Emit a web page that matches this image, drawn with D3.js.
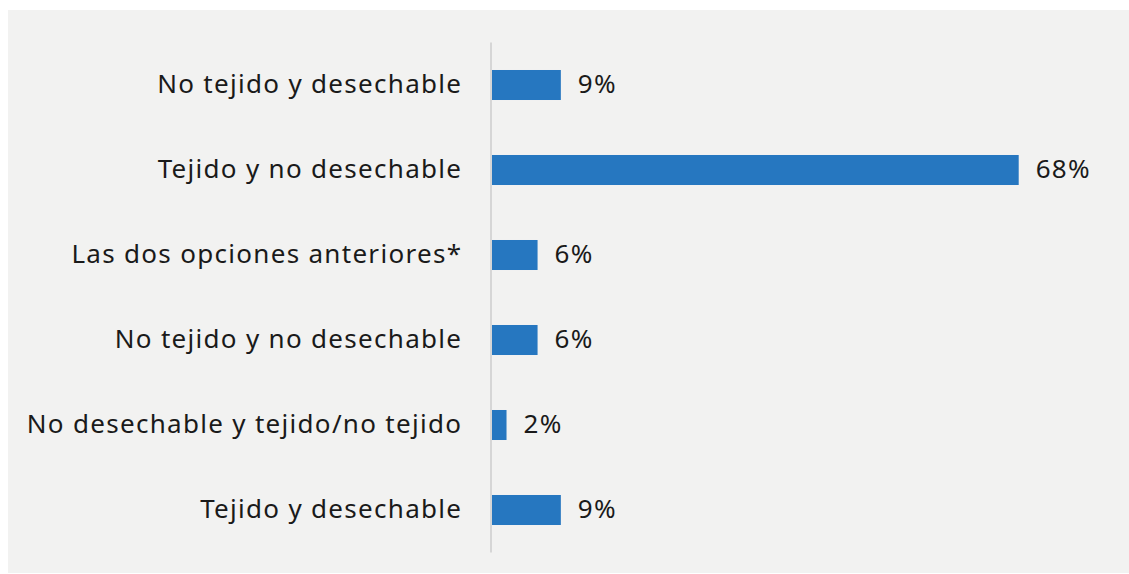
<!DOCTYPE html>
<html>
<head>
<meta charset="utf-8">
<script src="https://cdn.jsdelivr.net/npm/d3@7"></script>
<style>
  html, body { margin: 0; padding: 0; background: #ffffff; }
  svg { display: block; }
</style>
</head>
<body>
<svg id="chart" width="1129" height="574"></svg>
<script>
// Categories (top to bottom) and their shares in percent
const categories = [
  "No tejido y desechable",
  "Tejido y no desechable",
  "Las dos opciones anteriores*",
  "No tejido y no desechable",
  "No desechable y tejido/no tejido",
  "Tejido y desechable"
];
const values = [9, 68, 6, 6, 2, 9];
const valueLabels = ["9%", "68%", "6%", "6%", "2%", "9%"];

const W = 1129, H = 574;
const svg = d3.select("#chart");

// light panel behind the chart
svg.append("rect")
  .attr("x", 8).attr("y", 10)
  .attr("width", W - 8).attr("height", 563)
  .attr("fill", "#f2f2f1");

const x0 = 491;
const x = d3.scaleLinear().domain([0, 68]).range([x0, 1018.7]);
const y = d3.scaleBand()
  .domain(categories)
  .range([42.5, 552.5])
  .paddingInner(0.647)
  .paddingOuter(0.3235);

const data = categories.map((c, i) => ({ cat: c, v: values[i], label: valueLabels[i] }));

// bars
svg.append("g").selectAll("rect")
  .data(data)
  .join("rect")
  .attr("x", x(0))
  .attr("y", d => y(d.cat))
  .attr("width", d => x(d.v) - x(0))
  .attr("height", y.bandwidth())
  .attr("fill", "#2677c0");

// vertical baseline
svg.append("line")
  .attr("x1", x0).attr("x2", x0)
  .attr("y1", 42.5).attr("y2", 552.5)
  .attr("stroke", "#d6d6d6")
  .attr("stroke-width", 2);

const font = "'Noto Sans', sans-serif";
const fontSize = 26;
const tracking = 1.3;

// category labels
const yAxis = d3.axisLeft(y).tickSize(0).tickPadding(28.7);
const gy = svg.append("g")
  .attr("transform", `translate(${x0},0)`)
  .call(yAxis);
gy.select(".domain").remove();
gy.selectAll("text")
  .attr("dy", "0.3em")
  .attr("font-family", font)
  .attr("font-size", fontSize)
  .attr("letter-spacing", tracking)
  .attr("fill", "#1a1a1a");

// value labels
svg.append("g").selectAll("text")
  .data(data)
  .join("text")
  .attr("x", d => x(d.v) + 17)
  .attr("y", d => y(d.cat) + y.bandwidth() / 2)
  .attr("dy", "0.3em")
  .attr("font-family", font)
  .attr("font-size", fontSize)
  .attr("letter-spacing", tracking)
  .attr("fill", "#1a1a1a")
  .text(d => d.label);
</script>
</body>
</html>
